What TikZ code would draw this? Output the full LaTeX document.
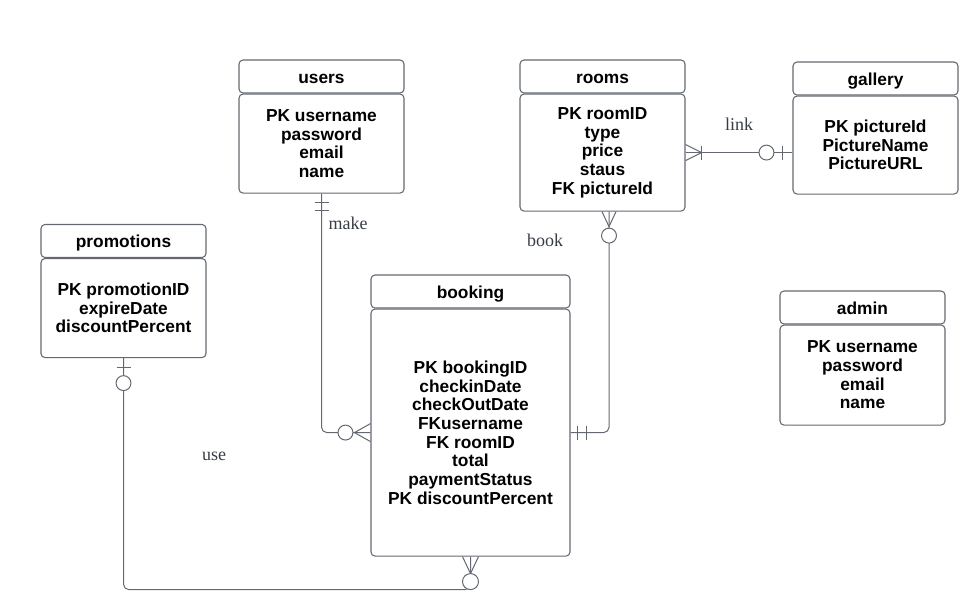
\documentclass[tikz,border=0pt]{standalone}
\usepackage{fontspec}
\setmainfont{Liberation Serif}
\setsansfont{Liberation Sans}
\usetikzlibrary{positioning, calc}
\definecolor{linegray}{RGB}{100,104,112}
\definecolor{labelgray}{RGB}{55,60,70}

\tikzset{
  tablebox/.style={draw=linegray, rounded corners=3pt, line width=0.8pt,
    minimum width=123.75pt, minimum height=24.75pt, inner sep=0pt,
    font=\sffamily\bfseries\fontsize{13pt}{14pt}\selectfont},
  tablehead/.style={tablebox, text height=11pt, text depth=1pt},
  tablebody/.style={tablebox, align=center},
  rel/.style={draw=linegray, line width=0.75pt},
  relname/.style={font=\fontsize{13.5pt}{16pt}\selectfont, text=labelgray},
}

\begin{document}
\begin{tikzpicture}[x=0.75pt, y=-0.75pt]
    \useasboundingbox (0,0) rectangle (966,614);

    % Tables
    \node[tablehead] (usersh) at (321.5,76.5) {users};
    \node[tablebody, minimum height=74.25pt, below=0pt of usersh] (usersb) {PK username\\password\\email\\name};

    \node[tablehead] (roomsh) at (602.5,76.5) {rooms};
    \node[tablebody, minimum height=87.75pt, below=0pt of roomsh] (roomsb) {PK roomID\\type\\price\\staus\\FK pictureId};

    \node[tablehead] (galh) at (875.5,78.5) {gallery};
    \node[tablebody, minimum height=73.5pt, below=0pt of galh] (galb) {PK pictureId\\PictureName\\PictureURL};

    \node[tablehead] (promh) at (123.5,241) {promotions};
    \node[tablebody, minimum height=74.25pt, below=0pt of promh] (promb) {PK promotionID\\expireDate\\discountPercent};

    \node[tablehead, minimum width=149.25pt] (bookh) at (470.5,291.5) {booking};
    \node[tablebody, minimum width=149.25pt, minimum height=185.25pt, below=0pt of bookh] (bookb) {PK bookingID\\checkinDate\\checkOutDate\\FKusername\\FK roomID\\total\\paymentStatus\\PK discountPercent};

    \node[tablehead] (adminh) at (862.5,307.5) {admin};
    \node[tablebody, minimum height=75pt, below=0pt of adminh] (adminb) {PK username\\password\\email\\name};

    % make: users -- booking
    \draw[rel, rounded corners=4pt] (usersb.south) |- (bookb.west);
    \draw[rel] ($(usersb.south)+(-7,9)$) -- ++(14,0);
    \draw[rel] ($(usersb.south)+(-7,17)$) -- ++(14,0);
    \draw[rel] ($(bookb.west)+(0,-9)$) -- ($(bookb.west)+(-16,0)$) -- ($(bookb.west)+(0,9)$);
    \draw[rel, fill=white] ($(bookb.west)+(-25,0)$) circle[radius=5.6pt];
    \node[relname, anchor=west] (makelbl) at (324,223) {make};

    % book: rooms -- booking
    \coordinate (bookstart) at ($(roomsb.south)+(6.5,0)$);
    \draw[rel, rounded corners=4pt] (bookstart) |- (bookb.east);
    \draw[rel] ($(bookstart)+(-7,0)$) -- ($(bookstart)+(0,15)$) -- ($(bookstart)+(7,0)$);
    \draw[rel, fill=white] ($(bookstart)+(0,24)$) circle[radius=5.6pt];
    \draw[rel] ($(bookb.east)+(7,-7)$) -- ++(0,14);
    \draw[rel] ($(bookb.east)+(16,-7)$) -- ++(0,14);
    \node[relname] (booklbl) at (545,240) {book};

    % link: rooms -- gallery
    \coordinate (linkend) at (roomsb.east -| galb.west);
    \draw[rel] (roomsb.east) -- (linkend);
    \draw[rel] ($(roomsb.east)+(0,-8)$) -- ($(roomsb.east)+(16,0)$) -- ($(roomsb.east)+(0,8)$);
    \draw[rel] ($(roomsb.east)+(16,-7)$) -- ++(0,14);
    \draw[rel, fill=white] ($(linkend)+(-26,0)$) circle[radius=5.6pt];
    \draw[rel] ($(linkend)+(-10,-7)$) -- ++(0,14);
    \node[relname] (linklbl) at (739,124) {link};

    % use: promotions -- booking
    \coordinate (usecorner) at ($(bookb.south)+(0,33)$);
    \draw[rel, rounded corners=4pt] (promb.south) |- (usecorner) -- (bookb.south);
    \draw[rel] ($(promb.south)+(-7,9)$) -- ++(14,0);
    \draw[rel, fill=white] ($(promb.south)+(0,25)$) circle[radius=5.6pt];
    \draw[rel] ($(bookb.south)+(-8,0)$) -- ($(bookb.south)+(0,17)$) -- ($(bookb.south)+(8,0)$);
    \draw[rel, fill=white] ($(bookb.south)+(0,25)$) circle[radius=6pt];
    \node[relname] (uselbl) at (214,456) {use};
\end{tikzpicture}
\end{document}
